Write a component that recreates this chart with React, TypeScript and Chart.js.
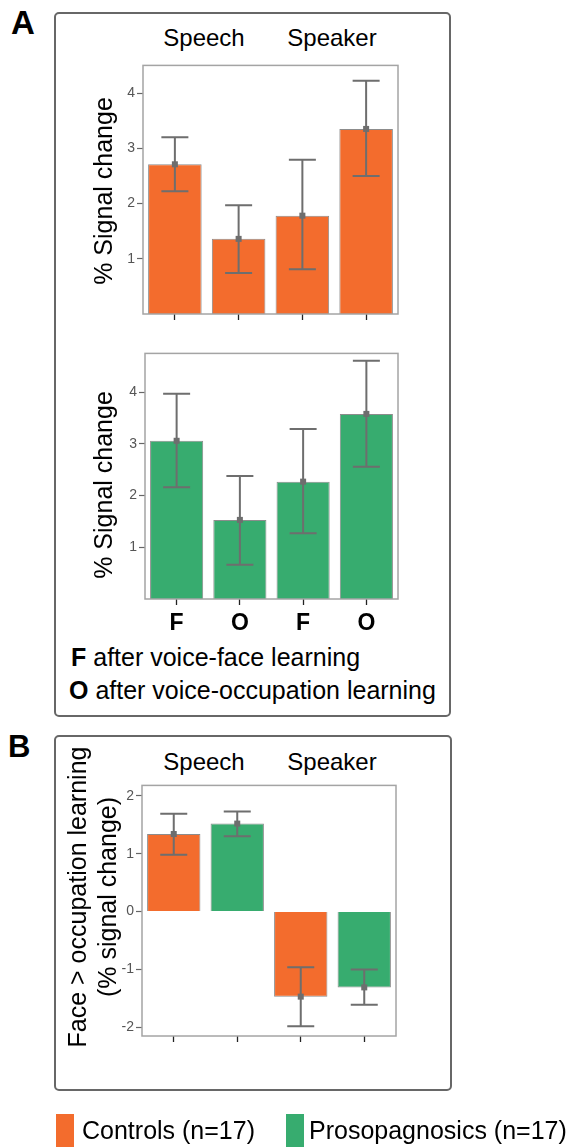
import React, { useEffect, useRef } from "react";
import { Chart, registerables } from "chart.js";

Chart.register(...registerables);

const FONT = "'Liberation Sans', Arial, Helvetica, sans-serif";
const ORANGE = "#F36C2D";
const GREEN = "#37AC6F";
const ERR_COLOR = "#6e6e6e";

// ---------- data ----------
const conditionLabels = ["F", "O", "F", "O"];
const groupLabels = ["Speech", "Speaker"];

const controlsMean = [2.71, 1.36, 1.78, 3.35];
const controlsLower = [2.22, 0.74, 0.81, 2.5];
const controlsUpper = [3.2, 1.97, 2.79, 4.22];

const prosoMean = [3.06, 1.53, 2.27, 3.58];
const prosoLower = [2.16, 0.66, 1.27, 2.56];
const prosoUpper = [3.97, 2.38, 3.29, 4.61];

const diffCategories = ["Speech", "Speech", "Speaker", "Speaker"];
const diffMean = [1.34, 1.52, -1.47, -1.31];
const diffLower = [0.98, 1.3, -1.98, -1.61];
const diffUpper = [1.69, 1.73, -0.96, -1.0];

const signalTicks = [1, 2, 3, 4];
const diffTicks = [-2, -1, 0, 1, 2];

const legendLabels = ["Controls (n=17)", "Prosopagnosics (n=17)"];

// ---------- plugin ----------
const errorBarPlugin = {
  id: "errorBars",
  afterDatasetsDraw(chart: any, _args: any, opts: any) {
    const { ctx } = chart;
    const meta = chart.getDatasetMeta(0);
    const yScale = chart.scales.y;
    const values = chart.data.datasets[0].data as number[];
    const hw = opts.capWidth / 2;
    ctx.save();
    ctx.strokeStyle = opts.color;
    ctx.fillStyle = opts.color;
    ctx.lineWidth = 2;
    meta.data.forEach((bar: any, i: number) => {
      const x = bar.x;
      const yl = yScale.getPixelForValue(opts.lower[i]);
      const yu = yScale.getPixelForValue(opts.upper[i]);
      const ym = yScale.getPixelForValue(values[i]);
      ctx.beginPath();
      ctx.moveTo(x, yl);
      ctx.lineTo(x, yu);
      ctx.moveTo(x - hw, yl);
      ctx.lineTo(x + hw, yl);
      ctx.moveTo(x - hw, yu);
      ctx.lineTo(x + hw, yu);
      ctx.stroke();
      ctx.fillRect(x - 3, ym - 3, 6, 6);
    });
    ctx.restore();
  },
  afterDraw(chart: any) {
    const { ctx, chartArea } = chart;
    ctx.save();
    ctx.strokeStyle = "#a4a4a4";
    ctx.lineWidth = 1.5;
    ctx.strokeRect(
      chartArea.left,
      chartArea.top,
      chartArea.right - chartArea.left,
      chartArea.bottom - chartArea.top
    );
    ctx.restore();
  },
};

type ChartProps = {
  left: number;
  top: number;
  width: number;
  height: number;
  labels: string[];
  showLabels: boolean;
  values: number[];
  colors: string[];
  lower: number[];
  upper: number[];
  yMin: number;
  yMax: number;
  yTicks: number[];
  yWidth: number;
  xHeight: number;
  padTop: number;
  padRight: number;
};

function BarChart(p: ChartProps) {
  const ref = useRef<HTMLCanvasElement | null>(null);
  useEffect(() => {
    if (!ref.current) return;
    const chart = new Chart(ref.current, {
      type: "bar",
      data: {
        labels: p.labels,
        datasets: [
          {
            data: p.values,
            backgroundColor: p.colors,
            borderColor: "#8c8c8c",
            borderWidth: 1,
            categoryPercentage: 1,
            barPercentage: 0.84,
          },
        ],
      },
      options: {
        animation: false,
        responsive: false,
        devicePixelRatio: 1,
        layout: { padding: { top: p.padTop, right: p.padRight, left: 0, bottom: 0 } },
        plugins: {
          legend: { display: false },
          title: { display: false },
          tooltip: { enabled: false },
          errorBars: { lower: p.lower, upper: p.upper, color: ERR_COLOR, capWidth: 27 },
        } as any,
        scales: {
          x: {
            type: "category",
            offset: true,
            grid: {
              offset: false,
              drawOnChartArea: false,
              drawTicks: true,
              tickLength: 6,
              tickColor: "#222",
              tickWidth: 1.3,
            },
            border: { display: false },
            ticks: {
              display: true,
              autoSkip: false,
              maxRotation: 0,
              padding: 5,
              color: "#000",
              font: { family: FONT, size: 23, weight: "bold" },
              callback: (_v: any, i: number) => (p.showLabels ? p.labels[i] : ""),
            },
            afterFit: (s: any) => {
              s.height = p.xHeight;
            },
          },
          y: {
            type: "linear",
            min: p.yMin,
            max: p.yMax,
            afterBuildTicks: (s: any) => {
              s.ticks = p.yTicks.map((v) => ({ value: v }));
            },
            grid: {
              drawOnChartArea: false,
              tickLength: 6,
              tickColor: "#666",
              tickWidth: 1.2,
            },
            border: { display: false },
            ticks: {
              padding: 2,
              color: "#555",
              font: { family: FONT, size: 14 },
            },
            afterFit: (s: any) => {
              s.width = p.yWidth;
            },
          },
        },
      } as any,
      plugins: [errorBarPlugin as any],
    });
    return () => chart.destroy();
  }, []);
  return (
    <canvas
      ref={ref}
      width={p.width}
      height={p.height}
      style={{ position: "absolute", left: p.left, top: p.top, width: p.width, height: p.height }}
    />
  );
}

function Text(props: {
  x: number;
  baseline: number;
  size: number;
  center?: boolean;
  children: React.ReactNode;
  weight?: string;
}) {
  const { x, baseline, size, center, children, weight } = props;
  return (
    <div
      style={{
        position: "absolute",
        left: x,
        top: baseline - 0.8465 * size,
        fontSize: size,
        lineHeight: `${size}px`,
        fontWeight: (weight as any) || "normal",
        whiteSpace: "nowrap",
        transform: center ? "translateX(-50%)" : undefined,
      }}
    >
      {children}
    </div>
  );
}

function VTitle(props: { cx: number; cy: number; size: number; lines: string[]; lineHeight: number }) {
  return (
    <div
      style={{
        position: "absolute",
        left: props.cx,
        top: props.cy,
        transform: "translate(-50%, -50%) rotate(-90deg)",
        fontSize: props.size,
        lineHeight: `${props.lineHeight}px`,
        whiteSpace: "nowrap",
        textAlign: "center",
      }}
    >
      {props.lines.map((l, i) => (
        <div key={i}>{l}</div>
      ))}
    </div>
  );
}

export default function App() {
  const panelStyle: React.CSSProperties = {
    position: "absolute",
    border: "2px solid #676767",
    borderRadius: 5,
    boxSizing: "border-box",
  };
  return (
    <div
      style={{
        position: "absolute",
        left: 0,
        top: 0,
        width: 571,
        height: 1147,
        overflow: "hidden",
        background: "#fff",
        fontFamily: FONT,
        color: "#000",
      }}
    >
      {/* Panels */}
      <div style={{ ...panelStyle, left: 54, top: 12, width: 397, height: 705 }} />
      <div style={{ ...panelStyle, left: 54, top: 735, width: 398, height: 356 }} />

      {/* Charts */}
      <BarChart
        left={100}
        top={55}
        width={310}
        height={270}
        labels={conditionLabels}
        showLabels={false}
        values={controlsMean}
        colors={controlsMean.map(() => ORANGE)}
        lower={controlsLower}
        upper={controlsUpper}
        yMin={0}
        yMax={4.5}
        yTicks={signalTicks}
        yWidth={43}
        xHeight={11}
        padTop={6}
        padRight={12}
      />
      <BarChart
        left={100}
        top={343}
        width={310}
        height={300}
        labels={conditionLabels}
        showLabels={true}
        values={prosoMean}
        colors={prosoMean.map(() => GREEN)}
        lower={prosoLower}
        upper={prosoUpper}
        yMin={0}
        yMax={4.75}
        yTicks={signalTicks}
        yWidth={45}
        xHeight={44}
        padTop={6}
        padRight={12}
      />
      <BarChart
        left={100}
        top={775}
        width={310}
        height={275}
        labels={diffCategories}
        showLabels={false}
        values={diffMean}
        colors={[ORANGE, GREEN, ORANGE, GREEN]}
        lower={diffLower}
        upper={diffUpper}
        yMin={-2.15}
        yMax={2.18}
        yTicks={diffTicks}
        yWidth={42}
        xHeight={14}
        padTop={6}
        padRight={14}
      />

      {/* Panel letters */}
      <Text x={11} baseline={34} size={33} weight="bold">A</Text>
      <Text x={8} baseline={757} size={31} weight="bold">B</Text>

      {/* Group headers */}
      <Text x={204} baseline={46.5} size={24} center>{groupLabels[0]}</Text>
      <Text x={332} baseline={46.5} size={24} center>{groupLabels[1]}</Text>
      <Text x={204} baseline={770} size={24} center>{groupLabels[0]}</Text>
      <Text x={332} baseline={770} size={24} center>{groupLabels[1]}</Text>

      {/* Y titles */}
      <VTitle cx={103} cy={191} size={25} lineHeight={25} lines={["% Signal change"]} />
      <VTitle cx={103} cy={485} size={25} lineHeight={25} lines={["% Signal change"]} />
      <VTitle
        cx={92}
        cy={897}
        size={25}
        lineHeight={30}
        lines={["Face > occupation learning", "(% signal change)"]}
      />

      {/* Condition key */}
      <Text x={71} baseline={666.5} size={25}>
        <b>F</b> after voice-face learning
      </Text>
      <Text x={69} baseline={699.5} size={25}>
        <b>O</b> after voice-occupation learning
      </Text>

      {/* Legend */}
      <div style={{ position: "absolute", left: 56, top: 1114, width: 18, height: 40, background: ORANGE }} />
      <Text x={82} baseline={1139.5} size={25}>{legendLabels[0]}</Text>
      <div style={{ position: "absolute", left: 286, top: 1114, width: 18, height: 40, background: GREEN }} />
      <Text x={309} baseline={1139.5} size={25}>{legendLabels[1]}</Text>
    </div>
  );
}
